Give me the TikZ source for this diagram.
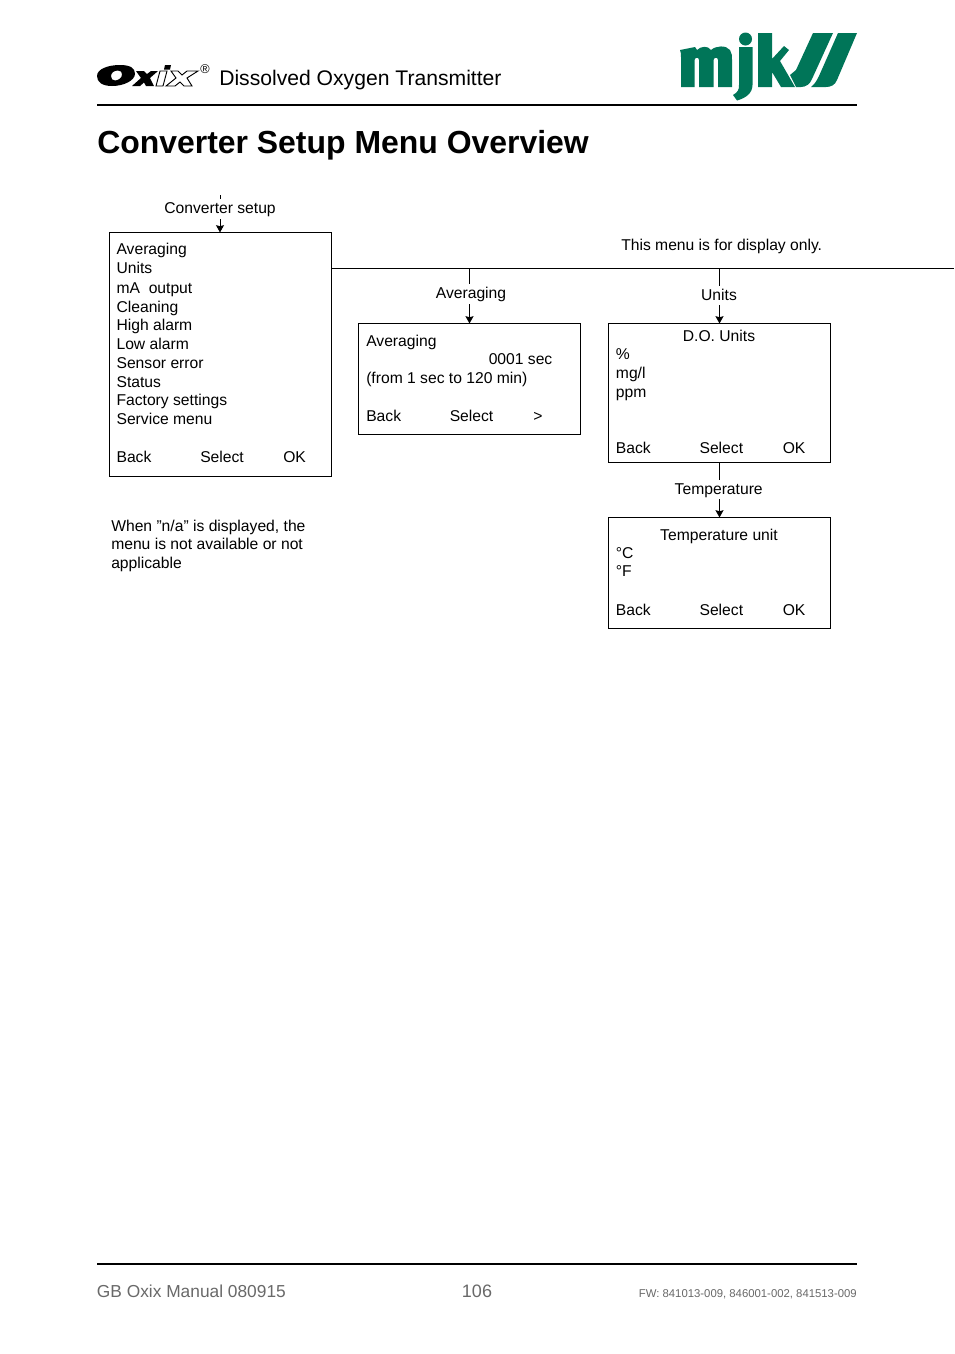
\documentclass[tikz,border=0pt]{standalone}
\usepackage{fontspec}
\setmainfont{Liberation Sans}
\usetikzlibrary{arrows.meta}
\definecolor{mjk}{RGB}{0,117,88}
\definecolor{foot}{RGB}{105,105,105}
\tikzset{
 txt/.style={anchor=base west,inner sep=0pt,font=\fontsize{11.75pt}{13pt}\selectfont},
 ctr/.style={anchor=base,inner sep=0pt,font=\fontsize{11.75pt}{13pt}\selectfont},
 box/.style={draw=black,line width=0.75pt,inner sep=0pt,outer sep=0pt,anchor=north west},
 lnk/.style={draw=black,line width=0.75pt},
 arr/.style={lnk,-{Stealth[length=5.5pt,width=6pt,inset=0.8pt]}},
 rule/.style={draw=black,line width=1.5pt},
 brand/.style={fill=mjk,draw=none},
}
\begin{document}
\begin{tikzpicture}[x=0.75pt,y=-0.75pt]
\useasboundingbox (0,0) rectangle (954,1354);
\fill[white] (0,0) rectangle (954,1354);
% header
\fill[even odd rule] (97,76) .. controls (97,69) and (108,65) .. (120,65) .. controls (130,65) and (135,68) .. (135,73.5) .. controls (135,81) and (123,86) .. (112,86) .. controls (102,86) and (97,82) .. (97,76) -- cycle
 (111,76) .. controls (111,73) and (114,70.5) .. (118,70.5) .. controls (121,70.5) and (122,72) .. (122,74.5) .. controls (122,78) and (118,80.5) .. (115,80.5) .. controls (112.5,80.5) and (111,79) .. (111,76) -- cycle;
\fill (136,71) -- (144,71) -- (147,74) -- (151,71) -- (158,71) -- (150,78) -- (154,86) -- (146,86) -- (144,82.5) -- (140,86) -- (132,86) -- (141,78) -- cycle;
\fill (165,65) -- (171,65) -- (170,69.5) -- (164,69.5) -- cycle;
\draw[line width=0.7pt] (160,71) -- (167,71) -- (163,86) -- (156,86) -- cycle;
\draw[line width=0.7pt] (171,71) -- (178,71) -- (182,75) -- (187,71) -- (198,71) -- (187,78) -- (192,86) -- (184,86) -- (180,82) -- (175,86) -- (166,86) -- (176,78) -- cycle;
\node[anchor=base,inner sep=0pt,font=\fontsize{9.5pt}{10pt}\selectfont] (reg) at (205,73) {®};
\node[anchor=base west,inner sep=0pt,font=\fontsize{15.85pt}{18pt}\selectfont] (head) at (219,85) {Dissolved Oxygen Transmitter};
% mjk logo
\fill[brand] (680,50) -- (695,47) -- (697,50) .. controls (701,46) and (708,45.5) .. (711,50) .. controls (716,45.5) and (726,45) .. (730,50) .. controls (732,53) and (732,56) .. (732,60) -- (732,87) -- (718,87) -- (718,60) .. controls (718,57) and (714,57) .. (713.5,60) -- (713.5,87) -- (699,87) -- (699,60) .. controls (699,57) and (695,57) .. (694.5,60) -- (694.5,87) -- (681,87) -- (681,58) .. controls (681,54) and (681,52) .. (680,50) -- cycle;
\fill[brand] (739,47) -- (752.5,47) -- (752.5,85) .. controls (752.5,93) and (746,98) .. (737,100.5) -- (733,95) .. controls (738,92) and (739,90) .. (739,85) -- cycle;
\fill[brand] (745.5,39) circle (6.5);
\fill[brand] (758,33) -- (772,33) -- (772,59) -- (784,46) -- (789,50) -- (780,61) -- (795,87) -- (781,87) -- (772,72) -- (772,87) -- (758,87) -- cycle;
\fill[brand] (813,33) -- (833,33) -- (812,79) .. controls (810,84) and (806,87) .. (801,87) -- (796,87) -- (790,75) -- (796,70) -- cycle;
\fill[brand] (838,33) -- (857,33) -- (837,80) .. controls (835,85) and (831,87) .. (826,87) -- (811,87) .. controls (815,84) and (817,80) .. (819,76) -- cycle;
\draw[rule] (97,105) -- (857,105);
\node[anchor=base west,inner sep=0pt,font=\bfseries\fontsize{23.95pt}{28pt}\selectfont] (title) at (97,153) {Converter Setup Menu Overview};
% left box
\coordinate (t0) at (220,195);
\node[ctr] (conv) at (220,213) {Converter setup};
\node[box,minimum width=222*0.75pt,minimum height=244*0.75pt] (b1) at (109.5,232.5) {};
\foreach \n/\y/\t in {a/254/Averaging,b/273/Units,c/293/mA\ \ output,d/312/Cleaning,e/330/High alarm,f/349/Low alarm,g/368/Sensor error,h/387/Status,i/405/Factory settings,j/424/Service menu}{
 \node[txt] (m\n) at (116.3,\y) {\t};}
\node[txt] (b1b) at (116.3,462) {Back};
\node[txt] (b1s) at (200,462) {Select};
\node[txt] (b1o) at (283,462) {OK};
\draw[lnk] (t0) -- (220,199);
\draw[arr] (220,219) -- (b1.north -| t0);
% note
\node[txt] (n1) at (111,531) {When ”n/a” is displayed, the};
\node[txt] (n2) at (111,549) {menu is not available or not};
\node[txt] (n3) at (111,568) {applicable};
% top line
\coordinate (r) at (954,268.5);
\draw[lnk] (b1.east |- r) -- (r);
\node[txt] (disp) at (621,250) {This menu is for display only.};
% averaging
\coordinate (j1) at (469.5,268.5);
\node[ctr] (avl) at (471,298) {Averaging};
\node[box,minimum width=222*0.75pt,minimum height=111*0.75pt] (b2) at (358.5,323.5) {};
\draw[lnk] (j1) -- (469.5,284);
\draw[arr] (469.5,304) -- (b2.north -| j1);
\node[txt] (a1) at (366,346) {Averaging};
\node[txt] (a2) at (488.5,364) {0001 sec};
\node[txt] (a3) at (366,383) {(from 1 sec to 120 min)};
\node[txt] (a4) at (366,421) {Back};
\node[txt] (a5) at (449.5,421) {Select};
\node[txt] (a6) at (533,421) {>};
% units
\coordinate (j2) at (719.5,268.5);
\node[ctr] (ul) at (719,300) {Units};
\node[box,minimum width=222*0.75pt,minimum height=139*0.75pt] (b3) at (608.5,323.5) {};
\draw[lnk] (j2) -- (719.5,286);
\draw[arr] (719.5,305) -- (b3.north -| j2);
\node[ctr] (u0) at (719,341) {D.O. Units};
\node[txt] (u1) at (615.7,359) {\%};
\node[txt] (u2) at (615.7,378) {mg/l};
\node[txt] (u3) at (615.7,397) {ppm};
\node[txt] (u4) at (615.7,453) {Back};
\node[txt] (u5) at (699.3,453) {Select};
\node[txt] (u6) at (782.5,453) {OK};
% temperature
\node[ctr] (tl) at (718.7,494) {Temperature};
\node[box,minimum width=222*0.75pt,minimum height=111*0.75pt] (b4) at (608.5,517.5) {};
\draw[lnk] (b3.south -| j2) -- (719.5,480);
\draw[arr] (719.5,499) -- (b4.north -| j2);
\node[ctr] (t0l) at (719,540) {Temperature unit};
\node[txt] (t1) at (615.7,558) {°C};
\node[txt] (t2) at (615.7,576.5) {°F};
\node[txt] (t3) at (615.7,615) {Back};
\node[txt] (t4) at (699.3,615) {Select};
\node[txt] (t5) at (782.5,615) {OK};
% footer
\draw[rule] (97,1264) -- (857,1264);
\node[anchor=base west,inner sep=0pt,text=foot,font=\fontsize{13pt}{16pt}\selectfont] (f1) at (96.7,1297) {GB Oxix Manual 080915};
\node[anchor=base,inner sep=0pt,text=foot,font=\fontsize{13.5pt}{16pt}\selectfont] (f2) at (477,1297) {106};
\node[anchor=base east,inner sep=0pt,text=foot,font=\fontsize{8.5pt}{10pt}\selectfont] (f3) at (857,1297) {FW: 841013-009, 846001-002, 841513-009};
\end{tikzpicture}
\end{document}
